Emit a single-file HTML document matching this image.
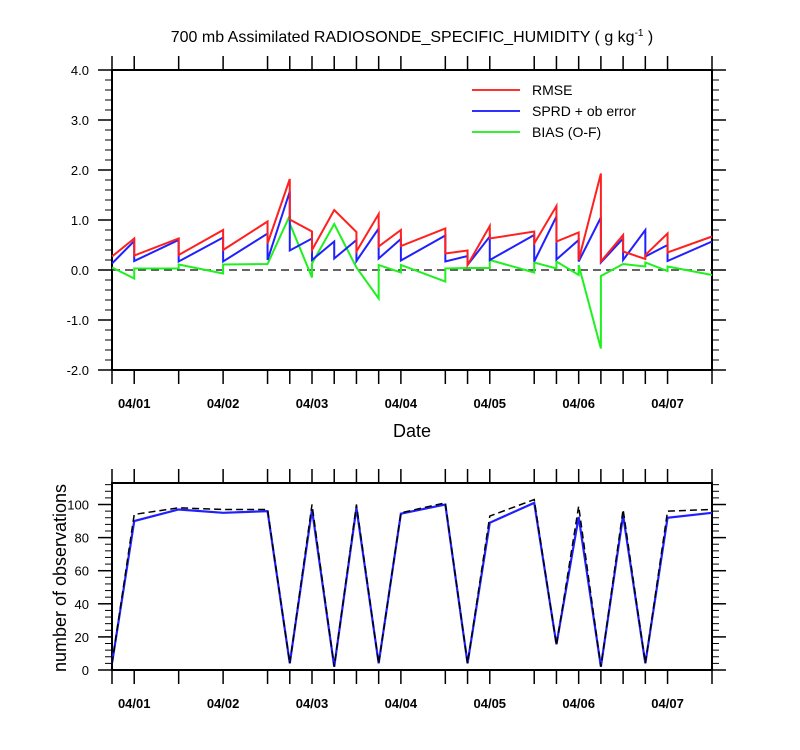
<!DOCTYPE html>
<html><head><meta charset="utf-8"><style>
html,body{margin:0;padding:0;background:#fff;}
svg{display:block;font-family:"Liberation Sans",Arial,sans-serif;}
</style></head><body>
<svg id="chart" width="800" height="750" viewBox="0 0 800 750" xmlns="http://www.w3.org/2000/svg">
<text x="412" y="42" text-anchor="middle" font-size="16">700 mb Assimilated RADIOSONDE_SPECIFIC_HUMIDITY ( g kg<tspan dy="-6" font-size="10">-1</tspan><tspan dy="6"> )</tspan></text>
<g id="gtop"></g>
<g id="gbot"></g>
<text x="412" y="437" text-anchor="middle" font-size="18">Date</text>
<text transform="translate(66,578) rotate(-90)" text-anchor="middle" font-size="18">number of observations</text>
<g>
<line x1="472" y1="90" x2="520" y2="90" stroke="#ff3030" stroke-width="2"/>
<text x="532" y="95" font-size="14">RMSE</text>
<line x1="472" y1="111" x2="520" y2="111" stroke="#3030ff" stroke-width="2"/>
<text x="532" y="116" font-size="14">SPRD + ob error</text>
<line x1="472" y1="132" x2="520" y2="132" stroke="#30f030" stroke-width="2"/>
<text x="532" y="137" font-size="14">BIAS (O-F)</text>
</g>
</svg>
<script>
// hours since 03/31 18Z
const times=[0,6,18,30,42,48,54,60,66,72,78,90,96,102,114,120,126,132,138,144,150,162];
const dateLabels=["04/01","04/02","04/03","04/04","04/05","04/06","04/07"];
const dateHours=[6,30,54,78,102,126,150];
// each time: [value before jump, value after jump]
const rmse=[[0.27,0.27],[0.63,0.29],[0.63,0.3],[0.8,0.4],[0.97,0.53],[1.82,1.01],[0.77,0.4],[1.2,1.2],[0.76,0.37],[1.12,0.47],[0.8,0.48],[0.83,0.33],[0.39,0.1],[0.88,0.63],[0.77,0.53],[1.28,0.57],[0.75,0.2],[1.93,0.17],[0.7,0.37],[0.22,0.3],[0.73,0.35],[0.67,0.67]];
const sprd=[[0.13,0.13],[0.58,0.18],[0.6,0.17],[0.65,0.17],[0.73,0.2],[1.57,0.39],[0.63,0.2],[0.57,0.23],[0.6,0.18],[0.83,0.23],[0.62,0.19],[0.69,0.17],[0.28,0.1],[0.67,0.2],[0.7,0.17],[1.07,0.21],[0.6,0.17],[1.05,0.15],[0.63,0.2],[0.8,0.27],[0.5,0.18],[0.57,0.57]];
const bias=[[0.05,0.05],[-0.17,0.03],[0.03,0.11],[-0.07,0.11],[0.12,0.12],[1.09,0.93],[-0.15,0.13],[0.92,0.92],[0.05,0.05],[-0.57,0.1],[-0.05,0.1],[-0.23,0.03],[0.04,0.04],[0.04,0.2],[-0.05,0.15],[0.03,0.17],[-0.1,0.1],[-1.57,-0.12],[0.12,0.12],[0.07,0.15],[-0.02,0.07],[-0.1,-0.1]];
const obsUsed=[4,90,97,95,96,4,97,2,98,4,94.5,100,4,89,101,15.5,92.5,2,93.5,4,92,95];
const obsTotal=[4,94,98,97,97,4,100,2,100,4,95,101,4,93,103,15,99,2,97,4,96,97];
const topTicks=[-2,-1,0,1,2,3,4];
const botTicks=[0,20,40,60,80,100];

const NS="http://www.w3.org/2000/svg";
const X0=112,X1=712,TMAX=162;
const xs=t=>X0+t/TMAX*(X1-X0);
const yTop=v=>270-v*50;
const yBot=v=>670-v*(670-483)/113;
function mk(p,tag,at){const e=document.createElementNS(NS,tag);for(const k in at)e.setAttribute(k,at[k]);p.appendChild(e);return e;}

function panel(g,name,yT,yB,yf,ymin,ymax,minorStep,majors,fmt){
  times.forEach(t=>{
    const a=mk(g,'line',{x1:xs(t),x2:xs(t),y1:yT,y2:yT-14,stroke:'#000','stroke-width':1.5});
    
    
    const b=mk(g,'line',{x1:xs(t),x2:xs(t),y1:yB,y2:yB+14,stroke:'#000','stroke-width':1.5});
    
    
  });
  for(let v=ymin;v<=ymax+1e-6;v+=minorStep){
    const y=yf(v);
    const L=mk(g,'line',{x1:X0-7,x2:X0,y1:y,y2:y,stroke:'#000','stroke-width':1});
    
    
    const R=mk(g,'line',{x1:X1,x2:X1+7,y1:y,y2:y,stroke:'#000','stroke-width':1});
    
    
  }
  majors.forEach(v=>{
    const y=yf(v);
    const L=mk(g,'line',{x1:X0-14,x2:X0,y1:y,y2:y,stroke:'#000','stroke-width':1.5});
    
    
    const R=mk(g,'line',{x1:X1,x2:X1+14,y1:y,y2:y,stroke:'#000','stroke-width':1.5});
    
    
    const tx=mk(g,'text',{x:X0-23,y:y+5,'text-anchor':'end','font-size':13});
    tx.textContent=fmt(v);
    
    
  });
  dateLabels.forEach((d,i)=>{
    const tx=mk(g,'text',{x:xs(dateHours[i]),y:yB+38,'text-anchor':'middle','font-size':13,'font-weight':'600'});
    tx.textContent=d;
    
    
  });
  const fr=mk(g,'rect',{x:X0,y:yT,width:X1-X0,height:yB-yT,fill:'none',stroke:'#000','stroke-width':2});
  
  
}
const gTop=document.getElementById('gtop'),gBot=document.getElementById('gbot');
panel(gTop,'top-panel',70,370,yTop,-2,4,0.2,topTicks,v=>v.toFixed(1));
panel(gBot,'bottom-panel',483,670,yBot,0,112,4,botTicks,v=>String(v));

const zl=mk(gTop,'line',{x1:X0,x2:X1,y1:yTop(0),y2:yTop(0),stroke:'#333','stroke-width':1.5,'stroke-dasharray':'8,5'});



function pairPath(arr){return arr.map((p,i)=>`${i?'L':'M'}${xs(times[i])},${yTop(p[0])} L${xs(times[i])},${yTop(p[1])}`).join(' ');}
const series=[[bias,'#20f020','bias-line'],[sprd,'#2020ff','sprd-line'],[rmse,'#ff2020','rmse-line']];
series.forEach(s=>{
  const p=mk(gTop,'path',{d:pairPath(s[0]),fill:'none',stroke:s[1],'stroke-width':2});
  
  
});
function linePath(arr){return arr.map((v,i)=>`${i?'L':'M'}${xs(times[i])},${yBot(v)}`).join(' ');}
const pu=mk(gBot,'path',{d:linePath(obsUsed),fill:'none',stroke:'#2020ff','stroke-width':2.2});


const pt=mk(gBot,'path',{d:linePath(obsTotal),fill:'none',stroke:'#000','stroke-width':1.5,'stroke-dasharray':'7,4'});


</script>
</body></html>
